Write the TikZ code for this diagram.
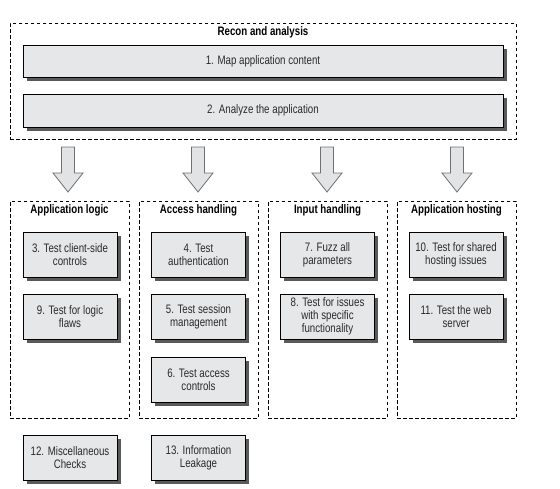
\documentclass[tikz,border=0pt]{standalone}
\usepackage{fontspec}
\setmainfont{Liberation Sans}[FakeStretch=0.79]
\usetikzlibrary{shadows,calc}
\definecolor{boxfill}{HTML}{E6E7E8}
\definecolor{shadowc}{HTML}{5A5A5A}
\definecolor{txt}{HTML}{2A2A2A}
\definecolor{arrowfill}{HTML}{E2E3E4}
\definecolor{arrowline}{HTML}{707070}
\begin{document}
\begin{tikzpicture}[x=1pt,y=-1pt,
  group/.style={draw, dashed, dash pattern=on 3.5pt off 2.5pt, line width=0.8pt, inner sep=0pt},
  title/.style={font=\fontsize{12.3}{13}\selectfont\bfseries, text=black, inner sep=0pt},
  stepbox/.style={draw=black, line width=1pt, fill=boxfill, inner sep=0pt, align=center,
     text=txt, font=\fontsize{12.3}{13}\selectfont,
     drop shadow={shadow xshift=3.5pt, shadow yshift=-3.5pt, fill=shadowc, opacity=1}},
  wide/.style={stepbox, minimum width=480pt, minimum height=32pt},
  small/.style={stepbox, minimum width=94pt, minimum height=45pt},
  blockarrow/.style={draw=arrowline, fill=arrowfill, line width=0.8pt, line join=miter}
]
\useasboundingbox (0,0) rectangle (560,488);

% top group
\node[group, minimum width=506pt, minimum height=116pt] (recon) at (263,81) {};
\node[title] (recont) at (263,32) {Recon and analysis};
\node[wide] (s1) at (263,61) {1. Map application content};
\node[wide, minimum height=33pt] (s2) at (263,110.5) {2. Analyze the application};

% block arrows
\foreach \x/\n in {68/a1,198/a2,327/a3,457/a4}{
  \coordinate (\n) at (\x,147);
  \draw[blockarrow] ($(\n)+(-6.5,0)$) -- ++(13,0) -- ++(0,26) -- ++(8.5,0)
     -- ($(\n)+(0,45)$) -- ($(\n)+(-15,26)$) -- ++(8.5,0) -- cycle;
}

% column groups
\node[group, minimum width=119pt, minimum height=217pt] (g1) at (69.5,309.5) {};
\node[group, minimum width=119pt, minimum height=217pt] (g2) at (198.5,309.5) {};
\node[group, minimum width=119pt, minimum height=217pt] (g3) at (327.5,309.5) {};
\node[group, minimum width=119pt, minimum height=217pt] (g4) at (456.5,309.5) {};
\node[title] (t1) at (69.5,210) {Application logic};
\node[title] (t2) at (198.5,210) {Access handling};
\node[title] (t3) at (327.5,210) {Input handling};
\node[title] (t4) at (456.5,210) {Application hosting};

% step boxes
\node[small] (s3) at (70,254.5) {3. Test client-side\\controls};
\node[small] (s9) at (70,316.5) {9. Test for logic\\flaws};
\node[small] (s4) at (198.5,254.5) {4. Test\\authentication};
\node[small] (s5) at (198.5,316.5) {5. Test session\\management};
\node[small] (s6) at (198.5,379.5) {6. Test access\\controls};
\node[small] (s7) at (327.5,254.5) {7. Fuzz all\\parameters};
\node[small] (s8) at (327.5,316.5) {8. Test for issues\\with specific\\functionality};
\node[small] (s10) at (456,254.5) {10. Test for shared\\hosting issues};
\node[small] (s11) at (456,316.5) {11. Test the web\\server};
\node[small] (s12) at (70,458) {12. Miscellaneous\\Checks};
\node[small] (s13) at (198.5,458) {13. Information\\Leakage};
\end{tikzpicture}
\end{document}
